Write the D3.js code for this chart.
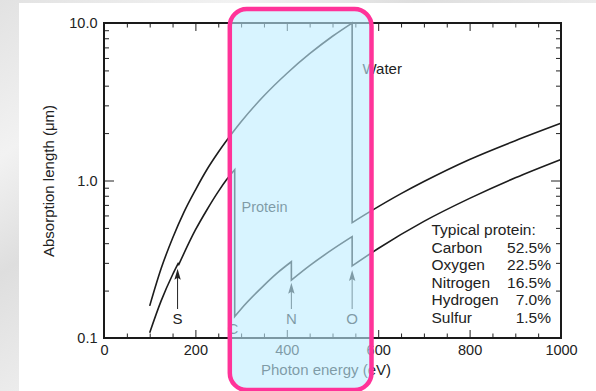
<!DOCTYPE html>
<html>
<head>
<meta charset="utf-8">
<script src="https://cdn.jsdelivr.net/npm/d3@7"></script>
<style>
    body { margin: 0; background: #e6e6e6; }
    svg { display: block; }
    text { font-family: "Liberation Sans", Arial, Helvetica, sans-serif; fill: #222; }
    .tick line { stroke: #222; stroke-width: 1; }
    .tick text { font-size: 14.5px; }
    .curve { fill: none; stroke: #1c1c1c; stroke-width: 1.6; }
</style>
</head>
<body>
<svg class="chart"></svg>
<script>
// absorption length (um) vs photon energy (eV); a repeated energy marks an absorption edge
var waterE = [100, 125, 150, 175, 200, 225, 250, 284, 300, 350, 400, 450, 500, 543, 543, 582, 650, 700, 800, 900, 1000];
var waterV = [0.16, 0.276, 0.43, 0.63, 0.87, 1.17, 1.51, 2.06, 2.36, 3.45, 4.78, 6.38, 8.24, 10.0, 0.54, 0.634, 0.825, 0.985, 1.36, 1.79, 2.31];

var proteinE = [100, 125, 150, 163, 163, 200, 225, 250, 268, 286, 286, 300, 350, 380, 410, 410, 450, 500, 543, 543, 600, 700, 800, 900, 1000];
var proteinV = [0.108, 0.172, 0.252, 0.30, 0.29, 0.485, 0.65, 0.85, 1.01, 1.17, 0.137, 0.153, 0.216, 0.26, 0.305, 0.233, 0.288, 0.365, 0.44, 0.287, 0.37, 0.55, 0.77, 1.04, 1.36];

var edgeNames = ["S", "N", "O"];
var edgeE = [161, 410, 543];
var edgeTip = [0.275, 0.224, 0.27];

var elements = ["Carbon", "Oxygen", "Nitrogen", "Hydrogen", "Sulfur"];
var shares = ["52.5%", "22.5%", "16.5%", "7.0%", "1.5%"];

var xTicks = [0, 200, 400, 600, 800, 1000];
var yTicks = [0.1, 1, 10];

var width = 596, height = 391;
var plotL = 104, plotR = 561, plotT = 23, plotB = 338;

var chart = d3.select(".chart").attr("width", width).attr("height", height);

var grad = chart.append("defs").append("linearGradient")
    .attr("id", "bg").attr("x1", 0).attr("y1", 0).attr("x2", 1).attr("y2", 1);
grad.selectAll("stop")
    .data([["0", "#e2e2e2"], ["0.2", "#f2f2f2"], ["0.35", "#dedede"], ["0.55", "#efefef"], ["0.75", "#e0e0e0"], ["1", "#ebebeb"]])
    .enter().append("stop")
    .attr("offset", function(d) { return d[0]; })
    .attr("stop-color", function(d) { return d[1]; });

chart.append("rect").attr("width", width).attr("height", height).attr("fill", "url(#bg)");
chart.append("rect").attr("x", 19).attr("y", 3).attr("width", width - 19).attr("height", height - 3).attr("fill", "#fff");

var x = d3.scaleLinear().domain([0, 1000]).range([plotL, plotR]);
var y = d3.scaleLog().domain([0.1, 10]).range([plotB, plotT]);

var xMinor = d3.range(50, 1000, 50).filter(function(d) { return d % 200; });
var yMinor = [];
[0.1, 1].forEach(function(dec) { for (var k = 2; k < 10; k++) yMinor.push(+(dec * k).toFixed(2)); });

function axis(gen, tx, ty, values, size, fmt, pad) {
    var g = chart.append("g")
        .attr("transform", "translate(" + tx + "," + ty + ")")
        .call(gen.tickValues(values).tickSize(size).tickPadding(pad || 3).tickFormat(fmt));
    g.select(".domain").remove();
    return g;
}

axis(d3.axisBottom(x), 0, plotB, xTicks, -8, d3.format("d"), 6.7);
axis(d3.axisBottom(x), 0, plotB, xMinor, -4.5, "");
axis(d3.axisTop(x), 0, plotT, xTicks, -8, "");
axis(d3.axisTop(x), 0, plotT, xMinor, -4.5, "");
axis(d3.axisLeft(y), plotL, 0, yTicks, -10, d3.format(".1f"), 6.5);
axis(d3.axisLeft(y), plotL, 0, yMinor, -5, "");
axis(d3.axisRight(y), plotR, 0, yTicks, -10, "");
axis(d3.axisRight(y), plotR, 0, yMinor, -5, "");

chart.append("rect")
    .attr("x", plotL).attr("y", plotT)
    .attr("width", plotR - plotL).attr("height", plotB - plotT)
    .attr("fill", "none").attr("stroke", "#1a1a1a").attr("stroke-width", 2);

// curves, split at the edges and joined by vertical drops
var line = d3.line()
    .x(function(d) { return x(d[0]); })
    .y(function(d) { return y(d[1]); })
    .curve(d3.curveMonotoneX);

function edgePath(E, V) {
    var segs = [], cur = [];
    E.forEach(function(e, i) {
        if (i > 0 && e === E[i - 1]) { segs.push(cur); cur = []; }
        cur.push([e, V[i]]);
    });
    segs.push(cur);
    return segs.map(function(s, i) { return i ? line(s).replace(/^M/, "L") : line(s); }).join("");
}

chart.append("path").attr("class", "curve").attr("d", edgePath(waterE, waterV));
chart.append("path").attr("class", "curve").attr("d", edgePath(proteinE, proteinV));

// edge arrows
var arrows = chart.append("g").selectAll("g")
    .data(edgeNames.map(function(n, i) { return {name: n, e: edgeE[i], tip: edgeTip[i]}; }))
    .enter().append("g");

arrows.append("line")
    .attr("x1", function(d) { return x(d.e); }).attr("x2", function(d) { return x(d.e); })
    .attr("y1", 309).attr("y2", function(d) { return y(d.tip) + 8; })
    .attr("stroke", "#222").attr("stroke-width", 1);

arrows.append("path")
    .attr("d", function(d) {
        var px = x(d.e), py = y(d.tip);
        return "M" + px + "," + py + "L" + (px - 3.2) + "," + (py + 11) + "L" + px + "," + (py + 9) + "L" + (px + 3.2) + "," + (py + 11) + "Z";
    })
    .attr("fill", "#222");

arrows.append("text")
    .attr("x", function(d) { return x(d.e); }).attr("y", 323.5)
    .attr("text-anchor", "middle").style("font-size", "15px")
    .text(function(d) { return d.name; });

chart.append("text").attr("x", x(282)).attr("y", 334).attr("text-anchor", "middle")
    .style("font-size", "15px").text("C");

chart.append("text").attr("x", 362.5).attr("y", 74).style("font-size", "15px").text("Water");
chart.append("text").attr("x", 241.5).attr("y", 212).style("font-size", "14.5px").text("Protein");

// composition table
var legend = chart.append("g").style("font-size", "15.5px");
legend.append("text").attr("x", 431.5).attr("y", 235).text("Typical protein:");
legend.selectAll(".name").data(elements).enter().append("text")
    .attr("class", "name")
    .attr("x", 431.5).attr("y", function(d, i) { return 253 + i * 17.4; })
    .text(function(d) { return d; });
legend.selectAll(".share").data(shares).enter().append("text")
    .attr("class", "share")
    .attr("x", 551).attr("y", function(d, i) { return 253 + i * 17.4; })
    .attr("text-anchor", "end")
    .text(function(d) { return d; });

// axis titles
chart.append("text").attr("x", 326).attr("y", 375).attr("text-anchor", "middle")
    .style("font-size", "15px").text("Photon energy (eV)");
chart.append("text").attr("transform", "translate(53.5,181) rotate(-90)").attr("text-anchor", "middle")
    .style("font-size", "15px").text("Absorption length (\u03bcm)");

// highlighted soft x-ray window
chart.append("rect")
    .attr("x", 229.8).attr("y", 9).attr("width", 141.7).attr("height", 381).attr("rx", 17)
    .attr("fill", "rgb(190,236,255)").attr("fill-opacity", 0.6)
    .attr("stroke", "#ff3399").attr("stroke-width", 4.5);
</script>
</body>
</html>
